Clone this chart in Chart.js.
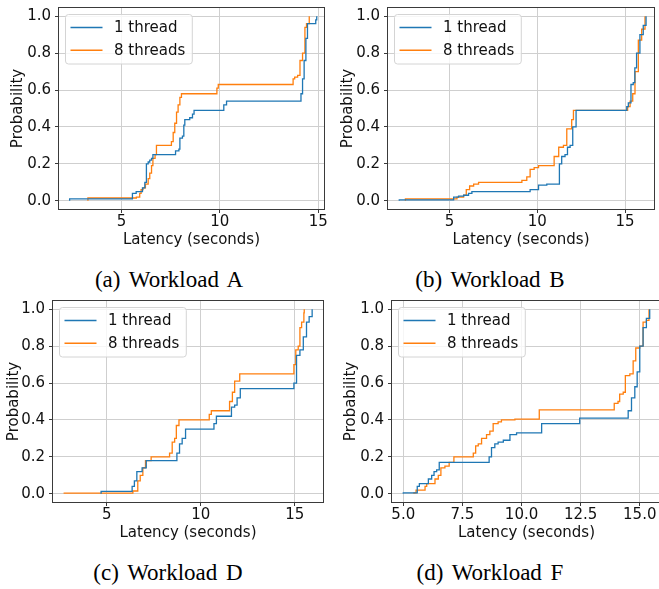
<!DOCTYPE html>
<html>
<head>
<meta charset="utf-8">
<script src="https://cdn.jsdelivr.net/npm/chart.js@4.4.1/dist/chart.umd.min.js"></script>
<style>
  html, body { margin: 0; padding: 0; background: #fff; }
  body { width: 659px; height: 589px; position: relative; overflow: hidden; }
  .panel { position: absolute; }
  .caption {
    position: absolute; width: 240px; text-align: center;
    font-family: "Liberation Serif", "Times New Roman", serif;
    font-size: 23px; line-height: 23px; word-spacing: 3px; color: #000;
  }
</style>
</head>
<body>
<div class="panel" style="left:0px;top:0px"><canvas id="chartA"></canvas></div>
<div class="panel" style="left:330px;top:0px"><canvas id="chartB"></canvas></div>
<div class="panel" style="left:0px;top:293px"><canvas id="chartC"></canvas></div>
<div class="panel" style="left:330px;top:293px"><canvas id="chartD"></canvas></div>
<div class="caption" style="left:49px;top:268px">(a) Workload A</div>
<div class="caption" style="left:370px;top:268px">(b) Workload B</div>
<div class="caption" style="left:48px;top:561px">(c) Workload D</div>
<div class="caption" style="left:370px;top:561px">(d) Workload F</div>
<script>
    // latency (s), cumulative probability
    const seriesLabels = ['1 thread', '8 threads']
    const seriesColors = ['#1f77b4', '#ff7f0e']

    const wlA_1 = [[2.37,0],[2.37,0.01],[5.56,0.04],[5.75,0.05],[6.07,0.07],[6.19,0.10],[6.27,0.20],[6.36,0.21],[6.44,0.22],[6.53,0.23],[6.60,0.25],[7.75,0.27],[7.92,0.28],[7.97,0.34],[8.10,0.35],[8.17,0.41],[8.22,0.44],[8.39,0.44],[8.47,0.45],[8.61,0.47],[8.69,0.49],[10.20,0.52],[10.34,0.54],[14.12,0.58],[14.20,0.66],[14.28,0.76],[14.37,0.88],[14.45,0.96],[14.87,0.98],[14.92,1.0]]
    const wlA_8 = [[3.30,0],[3.30,0.015],[5.76,0.02],[5.93,0.04],[6.00,0.06],[6.10,0.07],[6.22,0.09],[6.36,0.12],[6.44,0.15],[6.53,0.19],[6.60,0.23],[6.71,0.25],[6.78,0.30],[7.54,0.32],[7.63,0.37],[7.71,0.42],[7.80,0.48],[7.88,0.52],[7.97,0.56],[8.05,0.58],[9.85,0.61],[9.92,0.63],[13.72,0.66],[13.80,0.67],[13.95,0.68],[14.07,0.76],[14.20,0.80],[14.32,0.94],[14.40,0.96],[14.54,1.0]]

    const wlB_1 = [[2.13,0],[2.13,0.005],[5.23,0.02],[5.51,0.025],[5.80,0.03],[6.08,0.04],[6.27,0.05],[9.59,0.06],[10.07,0.085],[10.54,0.09],[11.26,0.20],[11.39,0.24],[11.58,0.25],[11.72,0.29],[11.87,0.30],[12.02,0.40],[12.21,0.49],[15.10,0.51],[15.19,0.53],[15.34,0.63],[15.47,0.64],[15.56,0.72],[15.66,0.80],[15.85,0.90],[16.04,0.95],[16.20,1.0]]
    const wlB_8 = [[2.48,0],[2.48,0.01],[5.42,0.02],[5.80,0.03],[5.95,0.06],[6.14,0.08],[6.37,0.09],[6.65,0.10],[9.12,0.11],[9.40,0.13],[9.59,0.17],[9.82,0.18],[10.07,0.19],[10.96,0.24],[11.22,0.29],[11.49,0.30],[11.68,0.39],[11.96,0.44],[12.06,0.49],[15.15,0.51],[15.29,0.54],[15.44,0.58],[15.57,0.70],[15.76,0.87],[15.95,0.93],[16.14,1.0]]

    const wlD_1 = [[4.70,0],[4.70,0.013],[6.35,0.04],[6.47,0.07],[6.60,0.12],[6.88,0.14],[7.10,0.18],[8.73,0.22],[8.87,0.27],[9.01,0.30],[9.19,0.35],[10.70,0.38],[10.83,0.42],[11.63,0.47],[11.80,0.48],[11.93,0.52],[12.10,0.57],[14.95,0.60],[15.09,0.75],[15.27,0.78],[15.45,0.85],[15.62,0.93],[15.76,0.96],[15.92,1.0]]
    const wlD_8 = [[2.74,0],[2.74,0.003],[6.39,0.015],[6.65,0.07],[6.78,0.10],[6.92,0.14],[7.06,0.18],[7.36,0.20],[8.34,0.22],[8.48,0.28],[8.61,0.30],[8.70,0.37],[8.84,0.40],[10.45,0.43],[10.56,0.45],[11.53,0.50],[11.68,0.55],[11.80,0.61],[12.07,0.65],[14.95,0.70],[15.05,0.78],[15.18,0.80],[15.27,0.90],[15.36,0.93],[15.48,0.98],[15.50,1.0]]

    const wlF_1 = [[5.00,0],[5.00,0.005],[5.59,0.04],[5.68,0.055],[6.06,0.08],[6.20,0.10],[6.30,0.12],[6.41,0.13],[6.52,0.17],[8.63,0.20],[8.73,0.25],[8.87,0.27],[9.01,0.28],[9.23,0.29],[9.51,0.32],[9.79,0.33],[10.85,0.38],[12.46,0.41],[14.51,0.45],[14.65,0.52],[14.79,0.58],[14.89,0.66],[15.00,0.80],[15.14,0.90],[15.28,0.95],[15.42,1.0]]
    const wlF_8 = [[5.45,0],[5.45,0.005],[5.54,0.02],[5.92,0.04],[5.99,0.055],[6.34,0.08],[6.48,0.10],[6.59,0.14],[6.76,0.15],[6.94,0.17],[7.14,0.20],[7.96,0.22],[8.06,0.26],[8.17,0.27],[8.31,0.30],[8.52,0.32],[8.66,0.34],[8.80,0.38],[9.01,0.39],[9.15,0.40],[9.72,0.405],[10.75,0.455],[13.92,0.49],[14.08,0.50],[14.15,0.54],[14.30,0.55],[14.39,0.64],[14.58,0.65],[14.72,0.72],[14.83,0.79],[15.00,0.80],[15.14,0.93],[15.28,0.94],[15.39,1.0]]

    const xTicksInt = [5, 10, 15]
    const xTicksF = [5.0, 7.5, 10.0, 12.5, 15.0]
    const yTicks = [0.0, 0.2, 0.4, 0.6, 0.8, 1.0]

    const FONT = 'DejaVu Sans'
    const INK = '#111'
    const SPINE = '#3a3a3a'

    // matplotlib style legend box inside the axes (upper left)
    const boxLegend = {
        id: 'boxLegend',
        afterDatasetsDraw(chart) {
            const ctx = chart.ctx
            const area = chart.chartArea
            const x0 = area.left + 7.5
            const y0 = area.top + 7.5
            ctx.save()
            ctx.font = '15px "' + FONT + '"'
            let tw = 0
            chart.data.datasets.forEach(ds => { tw = Math.max(tw, ctx.measureText(ds.label).width) })
            const w = 48.5 + tw + 7
            const h = 49.5
            ctx.beginPath()
            ctx.roundRect(x0, y0, w, h, 3)
            ctx.fillStyle = 'rgba(255,255,255,0.8)'
            ctx.fill()
            ctx.strokeStyle = '#d4d4d4'
            ctx.lineWidth = 1
            ctx.stroke()
            chart.data.datasets.forEach((ds, i) => {
                const yy = y0 + 13 + i * 22.7
                ctx.beginPath()
                ctx.moveTo(x0 + 5, yy)
                ctx.lineTo(x0 + 37, yy)
                ctx.strokeStyle = ds.borderColor
                ctx.lineWidth = 1.5
                ctx.stroke()
                ctx.fillStyle = INK
                ctx.textBaseline = 'middle'
                ctx.textAlign = 'left'
                ctx.fillText(ds.label, x0 + 48.5, yy + 1)
            })
            ctx.restore()
        }
    }

    // full box around the axes
    const frame = {
        id: 'frame',
        afterDraw(chart) {
            const {ctx, chartArea} = chart
            const l = Math.round(chartArea.left), t = Math.round(chartArea.top)
            const r = Math.round(chartArea.right), b = Math.round(chartArea.bottom)
            ctx.save()
            ctx.strokeStyle = SPINE
            ctx.lineWidth = 1
            ctx.strokeRect(l + 0.5, t + 0.5, r - l - 1, b - t - 1)
            ctx.restore()
        }
    }

    function makeChart(id, width, cfg) {
        const canvas = document.getElementById(id)
        canvas.width = width
        canvas.height = 249
        canvas.style.width = width + 'px'
        canvas.style.height = '249px'
        return new Chart(canvas, {
            type: 'line',
            data: {
                datasets: [cfg.one, cfg.eight].map((pts, i) => ({
                    label: seriesLabels[i],
                    data: pts.map(p => ({x: p[0], y: p[1]})),
                    borderColor: seriesColors[i],
                    backgroundColor: seriesColors[i],
                    borderWidth: 1.3,
                    stepped: true,
                    pointRadius: 0,
                    fill: false
                }))
            },
            options: {
                responsive: false,
                animation: false,
                devicePixelRatio: 1,
                layout: { padding: { top: 7, right: cfg.padRight, left: 0, bottom: 0 } },
                plugins: { legend: { display: false }, tooltip: { enabled: false } },
                scales: {
                    x: {
                        type: 'linear',
                        min: cfg.xMin,
                        max: cfg.xMax,
                        afterBuildTicks: s => { s.ticks = cfg.xTicks.map(v => ({value: v})) },
                        afterFit: s => { s.height = 39; s.paddingLeft = 0; s.paddingRight = 0 },
                        ticks: {
                            font: { family: FONT, size: 15 },
                            color: INK,
                            padding: 0,
                            maxRotation: 0,
                            autoSkip: false,
                            callback: v => cfg.xFixed ? v.toFixed(1) : String(v)
                        },
                        grid: { color: '#cfcfcf', lineWidth: 1, tickLength: 3, tickColor: SPINE },
                        border: { display: false },
                        title: {
                            display: true,
                            text: 'Latency (seconds)',
                            font: { family: FONT, size: 15 },
                            color: INK,
                            padding: 0
                        }
                    },
                    y: {
                        min: -0.05,
                        max: 1.05,
                        afterBuildTicks: s => { s.ticks = yTicks.map(v => ({value: v})) },
                        afterFit: s => { s.width = cfg.yWidth; s.paddingTop = 0; s.paddingBottom = 0 },
                        ticks: {
                            font: { family: FONT, size: 15 },
                            color: INK,
                            padding: 4,
                            autoSkip: false,
                            callback: v => v.toFixed(1)
                        },
                        grid: { color: '#cfcfcf', lineWidth: 1, tickLength: 3, tickColor: SPINE },
                        border: { display: false },
                        title: {
                            display: true,
                            text: 'Probability',
                            font: { family: FONT, size: 15 },
                            color: INK,
                            padding: { top: cfg.titlePad, bottom: 0 }
                        }
                    }
                }
            },
            plugins: [boxLegend, frame]
        })
    }

    const chartA = makeChart('chartA', 329, { one: wlA_1, eight: wlA_8, xMin: 1.78, xMax: 15.34, xTicks: xTicksInt, xFixed: false, yWidth: 58, padRight: 4, titlePad: 9.3 })
    const chartB = makeChart('chartB', 329, { one: wlB_1, eight: wlB_8, xMin: 1.43, xMax: 16.71, xTicks: xTicksInt, xFixed: false, yWidth: 57, padRight: 4, titlePad: 9.3 })
    const chartC = makeChart('chartC', 329, { one: wlD_1, eight: wlD_8, xMin: 2.09, xMax: 16.55, xTicks: xTicksInt, xFixed: false, yWidth: 52, padRight: 5, titlePad: 4.7 })
    const chartD = makeChart('chartD', 336, { one: wlF_1, eight: wlF_8, xMin: 4.48, xMax: 15.94, xTicks: xTicksF, xFixed: true, yWidth: 61, padRight: 4, titlePad: 11.8 })
</script>
</body>
</html>
